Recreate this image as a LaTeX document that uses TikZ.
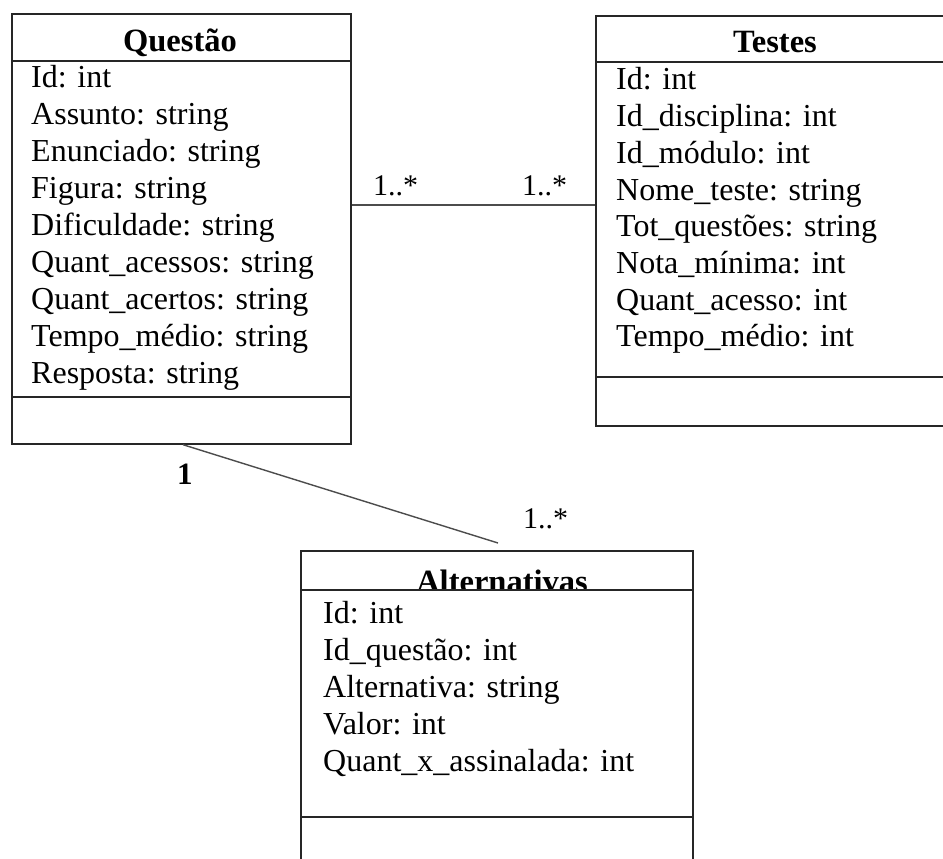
\documentclass[tikz,border=0pt]{standalone}
\usepackage{fontspec}
\setmainfont{Liberation Serif}
\usetikzlibrary{calc}
\begin{document}
\begin{tikzpicture}[x=1pt,y=-1pt,
  frame/.style={draw=black!85,line width=1.7pt,rectangle,inner sep=0pt,anchor=north west},
  rule/.style={draw=black!85,line width=1.5pt},
  link/.style={draw=black!70,line width=1.4pt},
  title/.style={font=\fontsize{32.5}{37}\selectfont\bfseries,anchor=base,inner sep=0pt},
  attr/.style={font=\fontsize{32}{37}\selectfont,anchor=base west,inner sep=0pt},
  mult/.style={font=\fontsize{30}{36}\selectfont,anchor=base west,inner sep=0pt},
  multb/.style={font=\fontsize{31}{36}\selectfont\bfseries,anchor=base west,inner sep=0pt}]
\clip (0,0) rectangle (943,859);

% class Questão
\node[frame,minimum width=339pt,minimum height=430pt] (q) at (11,13) {};
\draw[rule] (11,61) -- (350,61);
\draw[rule] (11,397) -- (350,397);
\node[title] (qt) at (180,52) {Questão};
\node[attr] (q1) at (31,88) {Id: int};
\node[attr] (q2) at (31,124.9) {Assunto: string};
\node[attr] (q3) at (31,161.8) {Enunciado: string};
\node[attr] (q4) at (31,198.7) {Figura: string};
\node[attr] (q5) at (31,235.6) {Dificuldade: string};
\node[attr] (q6) at (31,272.5) {Quant\_acessos: string};
\node[attr] (q7) at (31,309.4) {Quant\_acertos: string};
\node[attr] (q8) at (31,346.3) {Tempo\_médio: string};
\node[attr] (q9) at (31,383.2) {Resposta: string};

% class Testes
\node[frame,minimum width=360pt,minimum height=410pt] (t) at (595,15) {};
\draw[rule] (595,62) -- (955,62);
\draw[rule] (595,377) -- (955,377);
\node[title] (tt) at (775,53) {Testes};
\node[attr] (t1) at (616,90) {Id: int};
\node[attr] (t2) at (616,126.7) {Id\_disciplina: int};
\node[attr] (t3) at (616,163.4) {Id\_módulo: int};
\node[attr] (t4) at (616,200.1) {Nome\_teste: string};
\node[attr] (t5) at (616,236.8) {Tot\_questões: string};
\node[attr] (t6) at (616,273.5) {Nota\_mínima: int};
\node[attr] (t7) at (616,310.2) {Quant\_acesso: int};
\node[attr] (t8) at (616,346.9) {Tempo\_médio: int};

% class Alternativas (title sits on the header rule, its foot hidden)
\node[frame,minimum width=392pt,minimum height=340pt] (a) at (300,550) {};
\begin{scope}
  \clip (300,550) rectangle (692,589);
  \node[title] (at) at (502,592) {Alternativas};
\end{scope}
\draw[rule] (300,590) -- (692,590);
\draw[rule] (300,817) -- (692,817);
\node[attr] (a1) at (323,623) {Id: int};
\node[attr] (a2) at (323,660.2) {Id\_questão: int};
\node[attr] (a3) at (323,697.4) {Alternativa: string};
\node[attr] (a4) at (323,734.6) {Valor: int};
\node[attr] (a5) at (323,771.8) {Quant\_x\_assinalada: int};

% associations
\coordinate (h) at (0,205);
\draw[link] (q.east |- h) -- (t.west |- h);
\draw[link] ([xshift=172pt]q.south west) -- ([xshift=198pt,yshift=7pt]a.north west);

% multiplicities
\node[mult] (m1) at (373,195) {1..*};
\node[mult] (m2) at (522,195) {1..*};
\node[multb] (m3) at (177,484) {1};
\node[mult] (m4) at (523,528) {1..*};
\end{tikzpicture}
\end{document}
